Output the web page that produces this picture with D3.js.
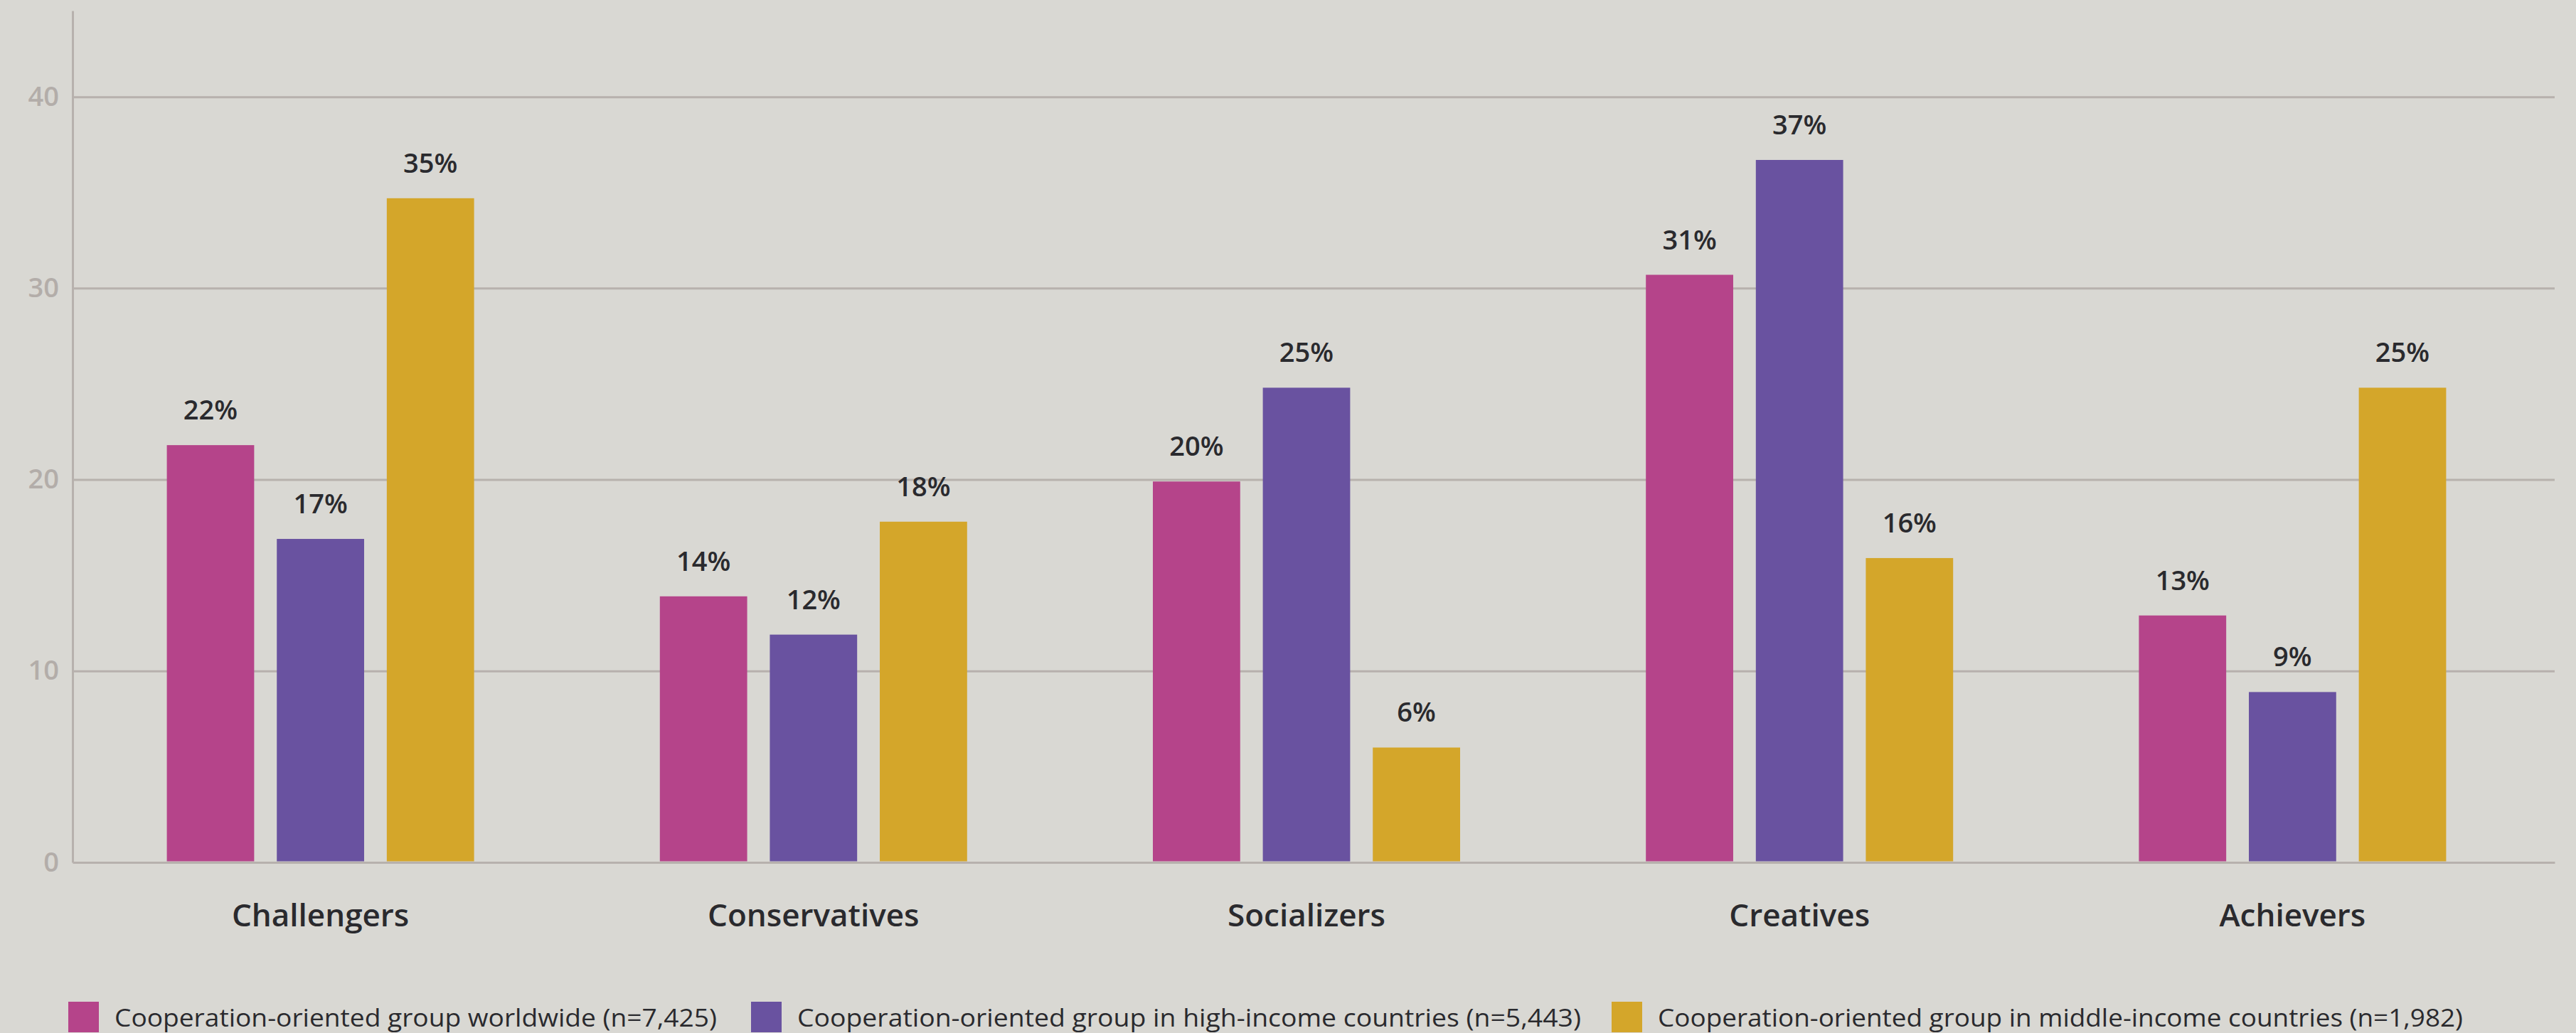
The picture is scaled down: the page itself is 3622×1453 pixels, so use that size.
<!DOCTYPE html>
<html>
<head>
<meta charset="utf-8">
<script src="https://cdn.jsdelivr.net/npm/d3@7"></script>
<style>
  html, body { margin: 0; padding: 0; background: #d9d8d3; }
  svg { display: block; }
  text { font-family: "Open Sans", "DejaVu Sans", sans-serif; }
</style>
</head>
<body>
<div id="chart"></div>
<script>
// data
var categories = ["Challengers", "Conservatives", "Socializers", "Creatives", "Achievers"];
var seriesNames = [
    "Cooperation-oriented group worldwide (n=7,425)",
    "Cooperation-oriented group in high-income countries (n=5,443)",
    "Cooperation-oriented group in middle-income countries (n=1,982)"
];
var worldwide = [21.8, 13.9, 19.9, 30.7, 12.9];
var highIncome = [16.9, 11.9, 24.8, 36.7, 8.9];
var middleIncome = [34.7, 17.8, 6.0, 15.9, 24.8];
var yTicks = [0, 10, 20, 30, 40];

var colors = ["#b5448a", "#6952a0", "#d4a62a"];

var width = 3622, height = 1453;
var margin = {top: 15, right: 30, bottom: 240, left: 104};

var svg = d3.select("#chart")
    .append("svg")
    .attr("width", width)
    .attr("height", height);

var series = [worldwide, highIncome, middleIncome];

// scales
var x0 = d3.scaleBand()
    .domain(categories)
    .range([margin.left, 3570])
    .paddingInner(0)
    .paddingOuter(0);

var x1 = d3.scaleBand()
    .domain([0, 1, 2])
    .range([-216, 216])
    .paddingInner(0.206)
    .paddingOuter(0);

var y = d3.scaleLinear()
    .domain([0, 44.5])
    .range([1213, margin.top]);

// grid lines
svg.append("g")
    .attr("class", "grid")
    .attr("transform", "translate(" + 102 + ",0)")
    .call(d3.axisLeft(y)
        .tickValues(yTicks.slice(1))
        .tickSize(-(3592 - 102))
        .tickFormat(""))
    .call(function(g) { g.select(".domain").remove(); })
    .selectAll("line")
    .attr("stroke", "#b7b1ad")
    .attr("stroke-width", 3);

// y axis
var yAxis = svg.append("g")
    .attr("transform", "translate(" + 102 + ",0)")
    .call(d3.axisLeft(y)
        .tickValues(yTicks)
        .tickSize(0)
        .tickPadding(19)
        .tickSizeOuter(0));
yAxis.select(".domain")
    .attr("stroke", "#b7b1ad")
    .attr("stroke-width", 3);
yAxis.selectAll("text")
    .attr("fill", "#b3ada9")
    .attr("font-size", 38)
    .attr("font-weight", 600)
    .style("font-family", "'Open Sans', sans-serif");

// x axis baseline
svg.append("g")
    .attr("transform", "translate(0," + y(0) + ")")
    .call(d3.axisBottom(d3.scaleLinear().domain([0, 1]).range([102, 3592]))
        .ticks(0)
        .tickSizeOuter(0))
    .select(".domain")
    .attr("stroke", "#b7b1ad")
    .attr("stroke-width", 3);

// bars
var groups = svg.selectAll(".group")
    .data(categories)
    .enter()
    .append("g")
    .attr("class", "group")
    .attr("transform", function(d) { return "translate(" + (x0(d) + x0.bandwidth() / 2) + ",0)"; });

groups.selectAll("rect")
    .data(function(d, i) { return series.map(function(s, k) { return {k: k, v: s[i]}; }); })
    .enter()
    .append("rect")
    .attr("x", function(d) { return x1(d.k); })
    .attr("width", x1.bandwidth())
    .attr("y", function(d) { return y(d.v); })
    .attr("height", function(d) { return y(0) - 1.5 - y(d.v); })
    .attr("fill", function(d) { return colors[d.k]; });

// value labels
groups.selectAll(".val")
    .data(function(d, i) { return series.map(function(s, k) { return {k: k, v: s[i]}; }); })
    .enter()
    .append("text")
    .attr("class", "val")
    .attr("x", function(d) { return x1(d.k) + x1.bandwidth() / 2; })
    .attr("y", function(d) { return y(d.v) - 36; })
    .attr("text-anchor", "middle")
    .attr("font-size", 38)
    .attr("font-weight", 600)
    .attr("fill", "#2a2a2e")
    .text(function(d) { return Math.round(d.v) + "%"; });

// category labels
groups.append("text")
    .attr("x", 0)
    .attr("y", 1303)
    .attr("text-anchor", "middle")
    .attr("font-size", 44)
    .attr("font-weight", 600)
    .attr("fill", "#2a2a2e")
    .text(function(d) { return d; });

// legend
var legendX = [96, 1056, 2266];
var legendW = [847, 1102, 1132];
var legend = svg.selectAll(".legend")
    .data(seriesNames)
    .enter()
    .append("g")
    .attr("class", "legend")
    .attr("transform", function(d, i) { return "translate(" + legendX[i] + ",1409)"; });

legend.append("rect")
    .attr("width", 43)
    .attr("height", 43)
    .attr("fill", function(d, i) { return colors[i]; });

legend.append("text")
    .attr("x", 65)
    .attr("y", 35)
    .attr("font-size", 35)
    .attr("fill", "#2a2a2e")
    .attr("textLength", function(d, i) { return legendW[i]; })
    .attr("lengthAdjust", "spacingAndGlyphs")
    .text(function(d) { return d; });
</script>
</body>
</html>
